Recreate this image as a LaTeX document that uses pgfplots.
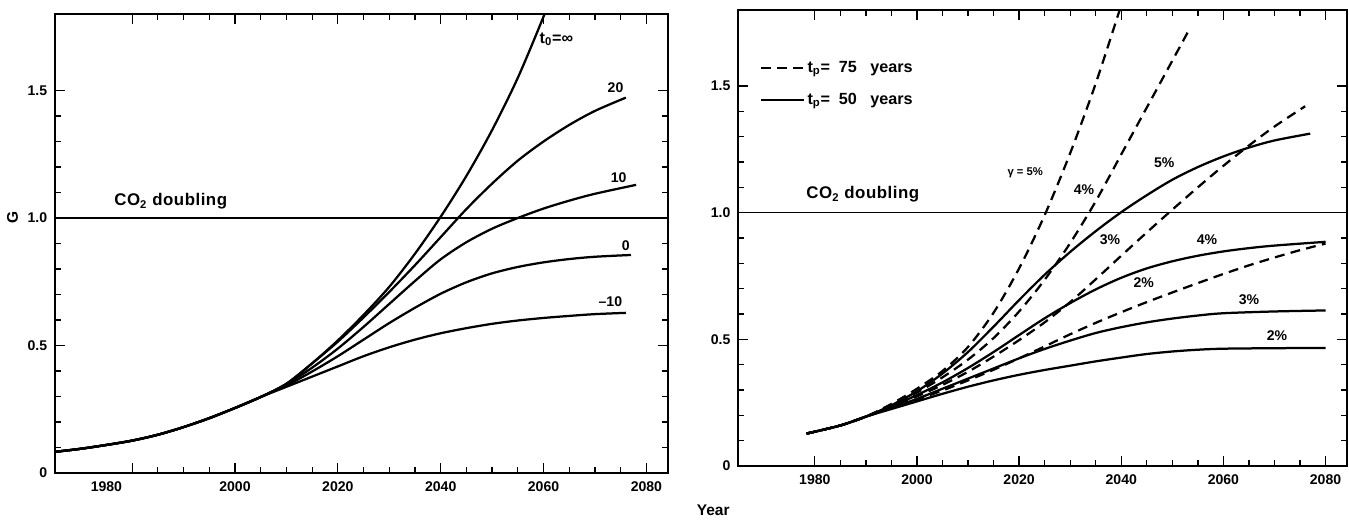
\documentclass[border=0pt]{standalone}
\usepackage{fontspec}
\setmainfont{Liberation Sans}
\usepackage{pgfplots}
\pgfplotsset{compat=1.18}

\pgfplotsset{
  panel/.style={
    scale only axis,
    xmin=1965, xmax=2084.2, ymin=0, ymax=1.8,
    xtick={1980,2000,2020,2040,2060,2080},
    minor x tick num=3,
    ytick={0,0.5,1,1.5},
    yticklabels={0,0.5,1.0,1.5},
    minor y tick num=4,
    tick align=inside,
    major tick length=0.25cm,
    minor tick length=0.14cm,
    tick style={black, line width=0.9pt},
    axis line style={line width=1.1pt},
    tick label style={font=\bfseries\fontsize{10}{12}\selectfont},
    yticklabel style={xshift=-2pt},
    xticklabel style={yshift=-3pt},
  },
  curve/.style={black, line width=1.6pt, smooth, no markers},
  dcurve/.style={curve, dash pattern=on 7pt off 4.5pt},
}
\tikzset{lab/.style={font=\bfseries\fontsize{10}{12}\selectfont, inner sep=0pt}}

\begin{document}
\begin{tikzpicture}
\path (-1.375cm,-1.125cm) rectangle (32.35cm,11.825cm);

% left panel: G for different t0
\begin{axis}[panel, at={(0,0)}, anchor=south west,
  width=15.325cm, height=11.475cm,
  xticklabels={,2000,2020,2040,2060,2080},
  extra x ticks={1975}, extra x tick labels={1980},
  extra x tick style={major tick length=0pt},
  ylabel={G},
  ylabel style={at={(ticklabel cs:0.5556)}, font=\bfseries\fontsize{11}{13}\selectfont},
]
\addplot[black, line width=1.3pt] coordinates {(1965,1) (2084.2,1)};
% t0 = infinity
\addplot[curve] coordinates {(1965,0.083) (1970,0.095) (1975,0.11) (1980,0.127) (1985,0.15)
  (1990,0.18) (1995,0.215) (2000,0.255) (2005,0.298) (2010,0.35) (2015,0.43) (2020,0.52)
  (2025,0.62) (2030,0.73) (2035,0.86) (2040,1.005) (2045,1.165) (2050,1.345) (2055,1.55) (2060,1.79) (2062,1.9)};
% t0 = 20
\addplot[curve] coordinates {(1965,0.083) (1970,0.095) (1975,0.11) (1980,0.127) (1985,0.15)
  (1990,0.18) (1995,0.215) (2000,0.255) (2005,0.298) (2010,0.35) (2015,0.43) (2020,0.515)
  (2025,0.61) (2030,0.71) (2035,0.815) (2040,0.925) (2045,1.035) (2050,1.135) (2055,1.225)
  (2060,1.30) (2065,1.365) (2070,1.42) (2076,1.472)};
% t0 = 10
\addplot[curve] coordinates {(1965,0.083) (1970,0.095) (1975,0.11) (1980,0.127) (1985,0.15)
  (1990,0.18) (1995,0.215) (2000,0.255) (2005,0.298) (2010,0.348) (2015,0.413) (2020,0.488)
  (2025,0.573) (2030,0.663) (2035,0.753) (2040,0.838) (2045,0.905) (2050,0.958) (2055,1.0)
  (2060,1.037) (2065,1.068) (2070,1.095) (2078,1.13)};
% t0 = 0
\addplot[curve] coordinates {(1965,0.083) (1970,0.095) (1975,0.11) (1980,0.127) (1985,0.15)
  (1990,0.18) (1995,0.215) (2000,0.255) (2005,0.298) (2010,0.343) (2015,0.398) (2020,0.458)
  (2025,0.523) (2030,0.588) (2035,0.648) (2040,0.703) (2045,0.748) (2050,0.783) (2055,0.808)
  (2060,0.826) (2065,0.839) (2070,0.848) (2077,0.855)};
% t0 = -10
\addplot[curve] coordinates {(1965,0.083) (1970,0.095) (1975,0.11) (1980,0.127) (1985,0.15)
  (1990,0.18) (1995,0.215) (2000,0.255) (2005,0.298) (2010,0.338) (2015,0.378) (2020,0.418)
  (2025,0.458) (2030,0.493) (2035,0.523) (2040,0.548) (2045,0.568) (2050,0.585) (2055,0.598)
  (2060,0.608) (2065,0.616) (2070,0.623) (2076,0.628)};

\node[lab, anchor=west, font=\bfseries\fontsize{11.5}{13}\selectfont] at (axis cs:2059.2,1.70) {t\textsubscript{0}=∞};
\node[lab] at (axis cs:2074,1.51) {20};
\node[lab] at (axis cs:2074.6,1.16) {10};
\node[lab] at (axis cs:2076,0.89) {0};
\node[lab] at (axis cs:2073,0.67) {\textendash10};
\node[lab, font=\bfseries\fontsize{12}{14}\selectfont\addfontfeature{LetterSpace=3}] at (axis cs:1987.5,1.065) {CO\textsubscript{2} doubling};
\end{axis}

% right panel: growth rates, two values of tp
\begin{axis}[panel, at={(17.08cm,0.175cm)}, anchor=south west,
  width=15.22cm, height=11.4cm,
  xticklabels={1980,2000,2020,2040,2060,2080},
  xlabel={Year},
  xlabel style={at={(axis description cs:-0.041,-0.0965)}, anchor=center,
    font=\bfseries\fontsize{11}{13}\selectfont},
  legend style={at={(axis description cs:0.035,0.895)}, anchor=north west,
    draw=none, fill=none, inner sep=0pt, row sep=9.5pt,
    font=\bfseries\fontsize{11.5}{13}\selectfont},
  legend cell align=left,
  legend image code/.code={\draw[#1] (0cm,0cm) -- (1.075cm,0cm);},
]
\addlegendimage{black, line width=1.4pt, dash pattern=on 7pt off 4.5pt}
\addlegendentry{t\textsubscript{p}=\ \ 75\ \ \ years}
\addlegendimage{black, line width=1.4pt}
\addlegendentry{t\textsubscript{p}=\ \ 50\ \ \ years}

\addplot[black, line width=1pt, forget plot] coordinates {(1965,1) (2084.2,1)};
% tp = 50 years (solid): 2, 3, 4, 5 %
\addplot[curve, forget plot] coordinates {(1978.4,0.128) (1985,0.16) (1990,0.195) (1995,0.225)
  (2000,0.255) (2005,0.285) (2010,0.313) (2015,0.338) (2020,0.36) (2025,0.379) (2030,0.396)
  (2035,0.413) (2040,0.428) (2045,0.442) (2050,0.452) (2055,0.459) (2060,0.463) (2070,0.465) (2080,0.466)};
\addplot[curve, forget plot] coordinates {(1978.4,0.128) (1985,0.16) (1990,0.195) (1995,0.23)
  (2000,0.265) (2005,0.305) (2010,0.345) (2015,0.385) (2020,0.425) (2025,0.462) (2030,0.495)
  (2035,0.525) (2040,0.548) (2045,0.567) (2050,0.582) (2055,0.594) (2060,0.603) (2070,0.61) (2080,0.614)};
\addplot[curve, forget plot] coordinates {(1978.4,0.128) (1985,0.16) (1990,0.195) (1995,0.235)
  (2000,0.28) (2005,0.33) (2010,0.387) (2015,0.45) (2020,0.517) (2025,0.583) (2030,0.643)
  (2035,0.697) (2040,0.743) (2045,0.78) (2050,0.808) (2055,0.83) (2060,0.847) (2065,0.86)
  (2070,0.87) (2080,0.885)};
\addplot[curve, forget plot] coordinates {(1978.4,0.128) (1985,0.16) (1990,0.195) (1995,0.24)
  (2000,0.295) (2005,0.365) (2010,0.45) (2015,0.55) (2020,0.655) (2025,0.755) (2030,0.845)
  (2035,0.927) (2040,1.002) (2045,1.069) (2050,1.13) (2055,1.18) (2060,1.222) (2065,1.257)
  (2070,1.285) (2077,1.312)};
% tp = 75 years (dashed): 2, 3, 4, 5 %
\addplot[dcurve, forget plot] coordinates {(1978.4,0.128) (1985,0.16) (1990,0.195) (1995,0.228)
  (2000,0.262) (2005,0.298) (2010,0.338) (2015,0.38) (2020,0.425) (2025,0.472) (2030,0.52)
  (2035,0.565) (2040,0.607) (2045,0.647) (2050,0.685) (2055,0.722) (2060,0.758) (2065,0.792)
  (2070,0.823) (2075,0.852) (2080,0.878)};
\addplot[dcurve, forget plot] coordinates {(1978.4,0.128) (1985,0.16) (1990,0.195) (1995,0.235)
  (2000,0.275) (2005,0.32) (2010,0.372) (2015,0.432) (2020,0.497) (2025,0.567) (2030,0.647)
  (2035,0.737) (2040,0.83) (2045,0.922) (2050,1.012) (2055,1.1) (2060,1.185) (2065,1.265)
  (2070,1.34) (2076,1.42)};
\addplot[dcurve, forget plot] coordinates {(1978.4,0.128) (1985,0.16) (1990,0.195) (1995,0.24)
  (2000,0.29) (2005,0.35) (2010,0.42) (2015,0.505) (2020,0.61) (2025,0.735) (2030,0.88)
  (2035,1.045) (2040,1.23) (2045,1.415) (2050,1.6) (2053.5,1.73)};
\addplot[dcurve, forget plot] coordinates {(1978.4,0.128) (1985,0.16) (1990,0.195) (1995,0.245)
  (2000,0.305) (2005,0.375) (2010,0.47) (2015,0.605) (2020,0.78) (2025,0.99) (2030,1.235)
  (2035,1.51) (2040,1.82)};

\node[lab, font=\bfseries\fontsize{8}{10}\selectfont] at (axis cs:2021.2,1.158) {γ = 5\%};
\node[lab] at (axis cs:2032.7,1.09) {4\%};
\node[lab] at (axis cs:2048.4,1.197) {5\%};
\node[lab] at (axis cs:2037.8,0.893) {3\%};
\node[lab] at (axis cs:2056.8,0.893) {4\%};
\node[lab] at (axis cs:2044.4,0.722) {2\%};
\node[lab] at (axis cs:2065,0.656) {3\%};
\node[lab] at (axis cs:2070.5,0.514) {2\%};
\node[lab, font=\bfseries\fontsize{12}{14}\selectfont\addfontfeature{LetterSpace=3}] at (axis cs:1989.4,1.071) {CO\textsubscript{2} doubling};
\end{axis}
\end{tikzpicture}
\end{document}
